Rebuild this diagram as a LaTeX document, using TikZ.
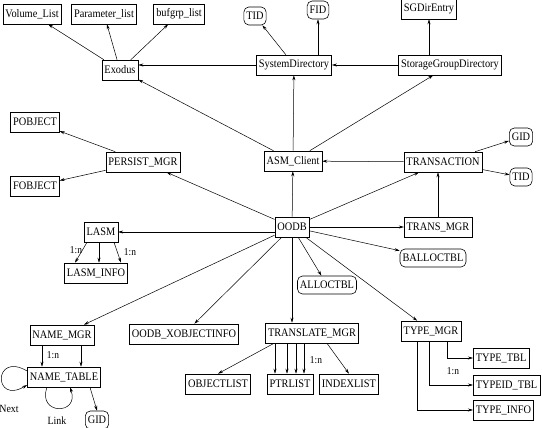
\documentclass[tikz,border=0pt]{standalone}
\usepackage{fontspec}
\setmainfont{Liberation Serif}[FakeStretch=0.9]
\usetikzlibrary{arrows.meta, positioning}

\begin{document}
\begin{tikzpicture}[x=1pt, y=-1pt,
    box/.style={draw, line width=0.6pt, inner xsep=2.5pt, inner ysep=0pt, minimum height=20pt, font=\fontsize{11.5}{13}\selectfont},
    rbox/.style={box, rounded corners=5pt, minimum height=18pt},
    arr/.style={-{Stealth[length=5pt,width=3pt]}, line width=0.5pt},
    lbl/.style={font=\fontsize{10.5}{12}\selectfont, inner sep=1pt}]
    \useasboundingbox (0,0) rectangle (542,428);

    % Top row
    \node[box] (vol) at (32,14) {Volume\_List};
    \node[box] (par) at (104,14) {Parameter\_list};
    \node[box] (buf) at (179,14) {bufgrp\_list};
    \node[rbox] (tid1) at (255,16) {TID};
    \node[rbox] (fid) at (318,10) {FID};
    \node[box] (sgdentry) at (429,9) {SGDirEntry};

    % Directories
    \node[box] (exodus) at (120,70) {Exodus};
    \node[box] (sysdir) at (294,65) {SystemDirectory};
    \node[box] (sgdir) at (450,65) {StorageGroupDirectory};

    % Client level
    \node[box] (pobj) at (35,122) {POBJECT};
    \node[box] (pmgr) at (143,162) {PERSIST\_MGR};
    \node[box] (fobj) at (35,186) {FOBJECT};
    \node[box] (asm) at (293,161) {ASM\_Client};
    \node[box] (trans) at (443,162) {TRANSACTION};
    \node[rbox] (gid1) at (521,137) {GID};
    \node[rbox] (tid2) at (521,177) {TID};

    % OODB level
    \node[box] (oodb) at (292,227) {OODB};
    \node[box] (transmgr) at (438,227) {TRANS\_MGR};
    \node[rbox] (balloc) at (433,258) {BALLOCTBL};
    \node[rbox] (alloc) at (327,285) {ALLOCTBL};
    \node[box] (lasm) at (101,232) {LASM};
    \node[box] (lasminfo) at (96,273) {LASM\_INFO};

    % Managers
    \node[box] (namemgr) at (62,335) {NAME\_MGR};
    \node[box] (xobj) at (184,334) {OODB\_XOBJECTINFO};
    \node[box] (translate) at (312,333) {TRANSLATE\_MGR};
    \node[box] (typemgr) at (431,331) {TYPE\_MGR};

    % Tables
    \node[box] (nametable) at (64,377) {NAME\_TABLE};
    \node[rbox] (gid2) at (97,420) {GID};
    \node[box] (objlist) at (218,384) {OBJECTLIST};
    \node[box] (ptrlist) at (290,384) {PTRLIST};
    \node[box] (indexlist) at (349,384) {INDEXLIST};
    \node[box, anchor=west] (typetbl) at (473,358) {TYPE\_TBL};
    \node[box, anchor=west] (typeidtbl) at (473,385) {TYPEID\_TBL};
    \node[box, anchor=west] (typeinfo) at (473,410) {TYPE\_INFO};

    % Upper links
    \draw[arr] (exodus) -- (vol);
    \draw[arr] (exodus) -- (par);
    \draw[arr] (exodus) -- (buf);
    \draw[arr] (sysdir.west) -- (sysdir.west -| exodus.east);
    \draw[arr] (sysdir) -- (tid1);
    \draw[arr] (sysdir.north -| fid.south) -- (fid.south);
    \draw[arr] (sgdir) -- (sysdir);
    \draw[arr] (sgdir.north -| sgdentry.south) -- (sgdentry.south);
    \draw[arr] (asm) -- (sysdir);
    \draw[arr] (asm) -- (sgdir);
    \draw[arr] (asm) -- (exodus);

    % Persistence and transactions
    \draw[arr] (pmgr) -- (pobj);
    \draw[arr] (pmgr) -- (fobj);
    \draw[arr] (oodb) -- (pmgr);
    \draw[arr] (oodb) -- (asm);
    \draw[arr] (oodb) -- (trans);
    \draw[arr] (trans) -- (asm);
    \draw[arr] (trans) -- (gid1);
    \draw[arr] (trans) -- (tid2);
    \draw[arr] (transmgr.north) -- (transmgr.north |- trans.south);

    % Out of OODB
    \draw[arr] (oodb) -- (transmgr);
    \draw[arr] (oodb) -- (balloc);
    \draw[arr] (oodb) -- (alloc);
    \draw[arr] (oodb) -- (typemgr);
    \draw[arr] (oodb.south) -- (oodb.south |- translate.north);
    \draw[arr] (oodb) -- (xobj);
    \draw[arr] (oodb) -- (namemgr);
    \draw[arr] (oodb.west |- lasm.east) -- (lasm.east);

    % LASM
    \draw[arr] ([xshift=-14pt]lasm.south) -- ([xshift=-21pt]lasminfo.north);
    \draw[arr] ([xshift=-2pt]lasm.south) -- ([xshift=3pt]lasminfo.north);
    \draw[arr] ([xshift=13pt]lasm.south) -- ([xshift=25pt]lasminfo.north);
    \node[lbl] (lasmn1) at (76,250) {1:n};
    \node[lbl] (lasmn2) at (130,252) {1:n};

    % Name manager
    \draw[arr] ([xshift=-20pt]namemgr.south) -- ([xshift=-22pt]nametable.north);
    \draw[arr] ([xshift=19pt]namemgr.south) -- ([xshift=17pt]nametable.north);
    \node[lbl] (namen) at (53,355) {1:n};
    \draw[arr] ([yshift=6pt]nametable.west) .. controls +(-34,-20) and +(-34,20) .. ([yshift=-8pt]nametable.west);
    \node[lbl, font=\fontsize{11}{12}\selectfont] (next) at (9,409) {Next};
    \draw[arr] ([xshift=-17pt]nametable.south) .. controls +(-10,28) and +(10,28) .. ([xshift=6pt]nametable.south);
    \node[lbl, font=\fontsize{11}{12}\selectfont] (link) at (57,421) {Link};
    \draw[arr] ([xshift=26pt]nametable.south) -- (gid2.north);

    % Translate manager
    \draw[arr] ([xshift=-38pt]translate.south) -- (objlist.north);
    \foreach \dx in {-15,-3,6,14} {
        \path ([xshift=\dx pt]ptrlist.north) coordinate (p);
        \draw[arr] (p |- translate.south) -- (p);
    }
    \node[lbl] (transn) at (316,360) {1:n};
    \draw[arr] ([xshift=15pt]translate.south) -- (indexlist.north);

    % Type manager
    \draw[arr] ([xshift=16pt]typemgr.south) |- (typetbl.west);
    \draw[arr] ([xshift=-2pt]typemgr.south) |- (typeidtbl.west);
    \draw[arr] ([xshift=-14pt]typemgr.south) |- (typeinfo.west);
    \node[lbl] (typen) at (453,371) {1:n};
\end{tikzpicture}
\end{document}
